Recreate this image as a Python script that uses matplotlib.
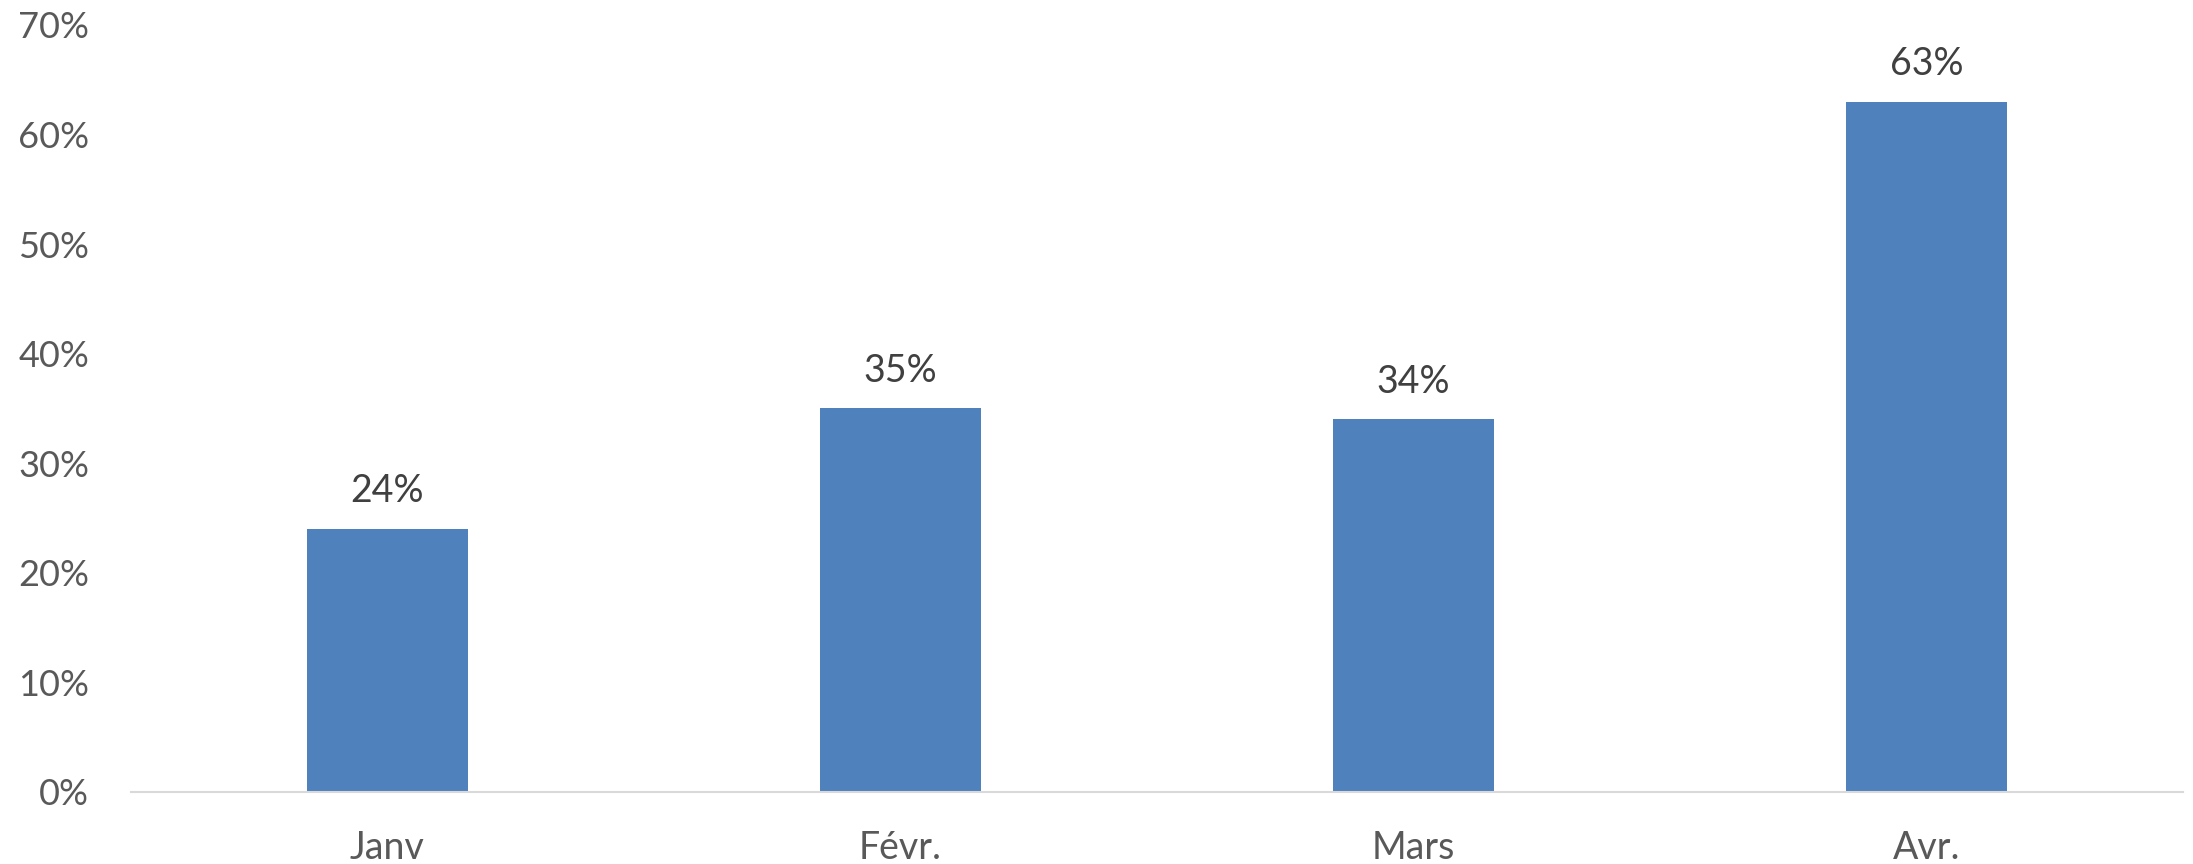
import numpy as np
import matplotlib.pyplot as plt
from matplotlib.ticker import PercentFormatter

# Données
mois = ['Janv', 'Févr.', 'Mars', 'Avr.']
valeurs = [0.24, 0.35, 0.34, 0.63]
y_ticks = [0, 0.1, 0.2, 0.3, 0.4, 0.5, 0.6, 0.7]

plt.rcParams['font.family'] = ['Lato', 'DejaVu Sans']

fig = plt.figure(figsize=(21.93, 8.64), dpi=100)
ax = fig.add_axes([0.0597, 0.0838, 0.9357, 0.8873])

x = np.arange(len(mois))
bars = ax.bar(x, valeurs, width=0.314, color='#4F81BD', zorder=2)

# Étiquettes de données
for b, v in zip(bars, valeurs):
    ax.annotate(f'{v * 100:.0f}%', (b.get_x() + b.get_width() / 2, v),
                xytext=(0, 14), textcoords='offset points',
                ha='center', va='bottom', fontsize=27, color='#404040')

ax.set_xlim(-0.5, len(mois) - 0.5)
ax.set_ylim(0, 0.7)
ax.set_yticks(y_ticks)
ax.yaxis.set_major_formatter(PercentFormatter(1.0, decimals=0))
ax.set_xticks(x)
ax.set_xticklabels(mois)

for s in ['top', 'right', 'left']:
    ax.spines[s].set_visible(False)
ax.spines['bottom'].set_color('#D9D9D9')
ax.spines['bottom'].set_linewidth(1.5)

ax.tick_params(axis='y', length=0, pad=30, labelsize=26, labelcolor='#595959')
ax.tick_params(axis='x', length=0, pad=28, labelsize=27, labelcolor='#595959')

plt.savefig('out.png', dpi=100)
